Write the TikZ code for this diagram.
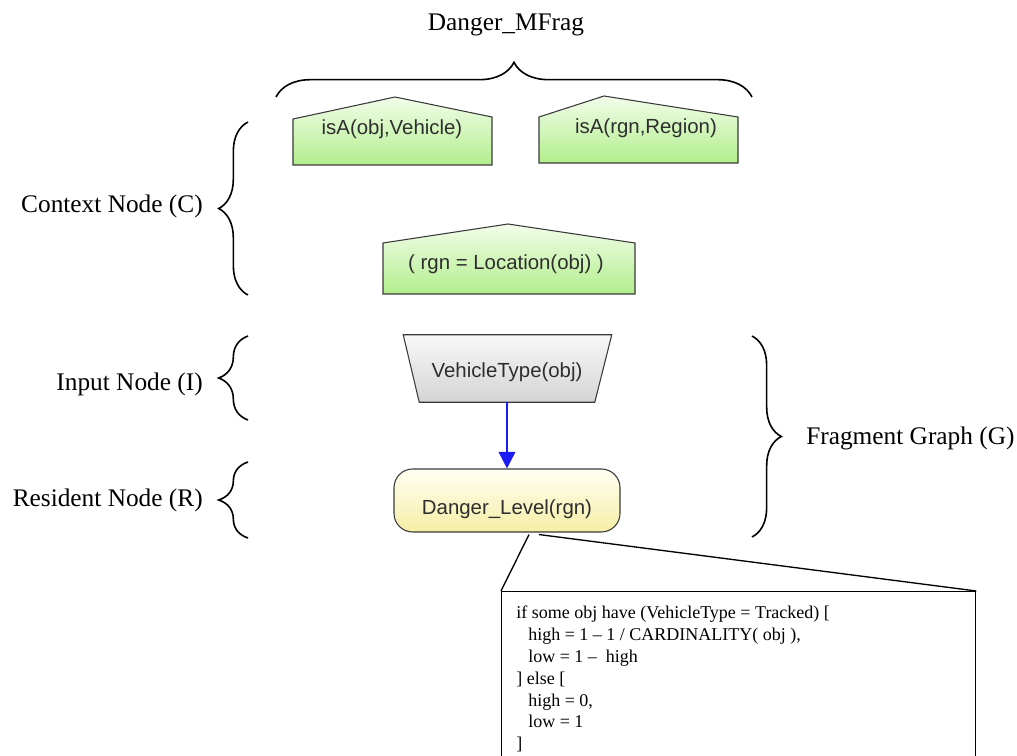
\documentclass[tikz,border=0pt]{standalone}
\usepackage{fontspec}
\setmainfont{Liberation Serif}
\newfontfamily\nodefont{Liberation Sans}
\usetikzlibrary{decorations.pathreplacing,arrows.meta,calc}
\definecolor{gtop}{HTML}{F2FDEA}
\definecolor{gbot}{HTML}{B2EE8C}
\definecolor{ytop}{HTML}{FFFFF2}
\definecolor{ybot}{HTML}{F6EEA6}
\definecolor{stop}{HTML}{F8F8F8}
\definecolor{sbot}{HTML}{D4D4D4}
\definecolor{edge}{HTML}{3A3A3A}
\definecolor{ntext}{HTML}{2E2E2E}
\definecolor{arrowblue}{HTML}{1A1AF5}
\begin{document}
\begin{tikzpicture}[x=0.75pt,y=-0.75pt,
  house/.style={draw=edge,line width=0.8pt,top color=gtop,bottom color=gbot},
  trap/.style={draw=edge,line width=0.8pt,top color=stop,bottom color=sbot},
  ntxt/.style={font=\nodefont\fontsize{15.3}{18}\selectfont,text=ntext,inner sep=0pt,anchor=base},
  lbl/.style={font=\fontsize{19}{22}\selectfont,inner sep=0pt},
  bracestyle/.style={draw,line width=1.2pt,decorate,decoration={brace,amplitude=#1}},
  inputnode/.style={rectangle,minimum width=175*0.75pt,minimum height=67*0.75pt,inner sep=0pt},
  resnode/.style={rectangle,rounded corners=14pt,minimum width=226*0.75pt,
     minimum height=63*0.75pt,draw=edge,line width=0.8pt,top color=ytop,bottom color=ybot},
  codebox/.style={draw,line width=1pt,minimum width=474*0.75pt,minimum height=200*0.75pt,
     anchor=north west,inner sep=0pt}
]
\useasboundingbox (0,0) rectangle (1017,756);

% title and top brace
\node[lbl,anchor=base] (title) at (506,31) {Danger\_MFrag};
\draw[bracestyle=26pt] (276,97) -- (752,97);

% context nodes (house shapes)
\shade[house] (293,165) -- (293,119) -- (395,97) -- (492,117) -- (492,165) -- cycle;
\node[ntxt] (c1t) at (392,135) {isA(obj,Vehicle)};
\shade[house] (539,163) -- (539,117) -- (604,96) -- (738,117) -- (738,163) -- cycle;
\node[ntxt] (c2t) at (646,134) {isA(rgn,Region)};
\shade[house] (383,294) -- (383,243) -- (508,224) -- (635,243) -- (635,294) -- cycle;
\node[ntxt] (c3t) at (506,269) {( rgn = Location(obj) )};

% input node
\node[inputnode] (vt) at (507,368.5) {};
\shade[trap] (vt.south west) -- ($(vt.north west)+(-16,0)$) -- ($(vt.north east)+(17,0)$) -- (vt.south east) -- cycle;
\node[ntxt] (vtt) at (507,377) {VehicleType(obj)};

% resident node
\node[resnode] (dl) at (507,500.5) {};
\node[ntxt] (dlt) at (507,514) {Danger\_Level(rgn)};

\draw[arrowblue,line width=1.2pt,-{Triangle[length=12.5pt,width=12.5pt]}] (vt.south) -- (dl.north);

% left labels and braces
\node[lbl,anchor=base east] (lc) at (203,213) {Context Node (C)};
\draw[bracestyle=22pt] (248,295) -- (248,122);
\node[lbl,anchor=base east] (li) at (203,390) {Input Node (I)};
\draw[bracestyle=22pt] (248,420) -- (248,336);
\node[lbl,anchor=base east] (lr) at (203,506) {Resident Node (R)};
\draw[bracestyle=22pt] (248,538) -- (248,462);

% right brace
\draw[bracestyle=22pt] (752,336) -- (752,537);
\node[lbl,anchor=base west] (lg) at (806,444) {Fragment Graph (G)};

% code box
\node[codebox] (code) at (501,591) {};
\coordinate (p1) at ($(dl.south)+(22,2)$);
\coordinate (p2) at ($(dl.south)+(32,2)$);
\draw[line width=1pt] (code.north west) -- (p1);
\draw[line width=1pt] (code.north east) -- (p2);
\node[font=\fontsize{13.5}{16.35}\selectfont,align=left,anchor=north west,inner sep=0pt] (codet) at (516,606)
{if some obj have (VehicleType = Tracked) [\\
\hspace*{9pt}high = 1 -- 1 / CARDINALITY( obj ),\\
\hspace*{9pt}low = 1 --\ \ high\\
] else [\\
\hspace*{9pt}high = 0,\\
\hspace*{9pt}low = 1\\
]};
\end{tikzpicture}
\end{document}
